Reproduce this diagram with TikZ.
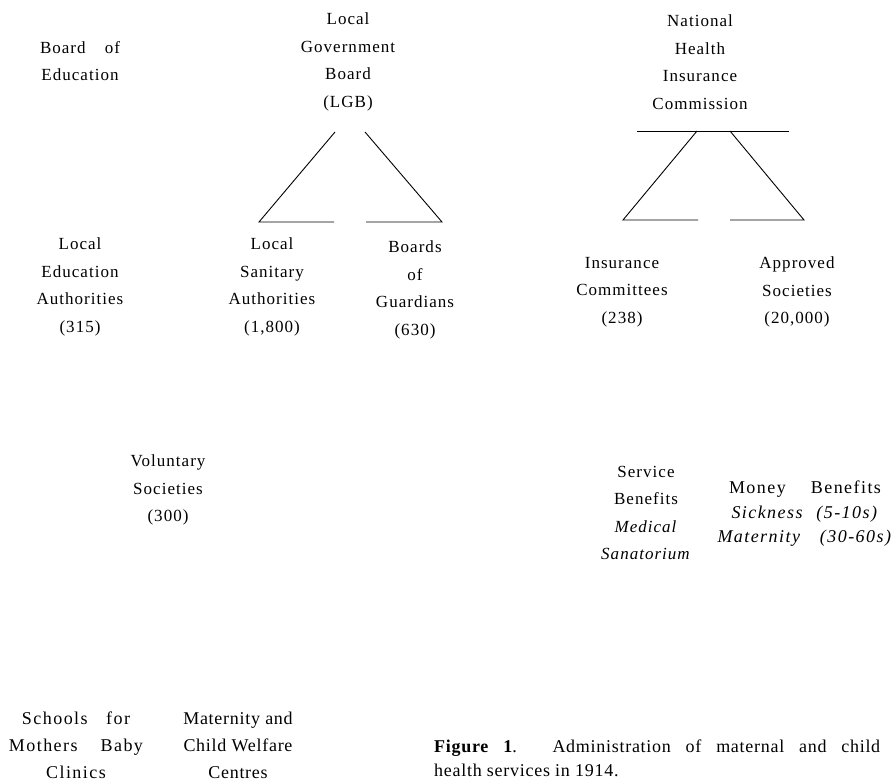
\documentclass[tikz,border=0pt]{standalone}
\usepackage{fontspec}
\setmainfont{Liberation Serif}
\newfontfamily\spaced[LetterSpace=6]{Liberation Serif}
\newfontfamily\widefam[LetterSpace=8]{Liberation Serif}
\newfontfamily\slight[LetterSpace=4]{Liberation Serif}
% a line stretched at its word gaps to a given width
\newcommand{\spread}[2]{\makebox[#1][s]{#2}}
\begin{document}
\begin{tikzpicture}[x=1pt,y=-1pt,
  lbl/.style={align=center,inner sep=0pt,font=\fontsize{17}{27.5}\selectfont\spaced},
  clinic/.style={align=center,inner sep=0pt,font=\fontsize{18}{27}\selectfont\slight},
  rule/.style={line width=0.9pt}]
\useasboundingbox (0,0) rectangle (895,781);

% top-level bodies
\node[lbl] (boe) at (80,61) {\spread{80pt}{Board of}\\Education};
\node[lbl] (lgb) at (348,62) {Local\\Government\\Board\\(LGB)};
\node[lbl] (nhi) at (700,62) {National\\Health\\Insurance\\Commission};

% local bodies
\node[lbl] (lea) at (80,287) {Local\\Education\\Authorities\\(315)};
\node[lbl] (lsa) at (272,287) {Local\\Sanitary\\Authorities\\(1,800)};
\node[lbl] (bog) at (415,290) {Boards\\of\\Guardians\\(630)};
\node[lbl] (ic) at (622,292) {Insurance\\Committees\\(238)};
\node[lbl] (as) at (797,292) {Approved\\Societies\\(20,000)};

% services
\node[lbl] (vs) at (168,490) {Voluntary\\Societies\\(300)};
\node[lbl] (sb) at (646,513) {Service\\Benefits\\\textit{Medical}\\\textit{Sanatorium}};
\node[lbl,font=\fontsize{18}{24.5}\selectfont\widefam] (mb) at (805,514)
  {\spread{152pt}{Money Benefits}\\
   \spread{147pt}{\textit{Sickness (5-10s)}}\\
   \spread{175pt}{\textit{Maternity (30-60s)}}};

% clinics
\node[clinic,font=\fontsize{18}{27}\selectfont\widefam] (sfm) at (76,745)
  {\spread{108pt}{Schools for}\\\spread{134pt}{Mothers Baby}\\Clinics};
\node[clinic] (mcw) at (238,745) {Maternity and\\Child Welfare\\Centres};

% caption
\node[align=left,anchor=north west,inner sep=0pt,
  font=\fontsize{18}{24}\selectfont\slight] (cap) at (434,740)
  {\spread{446pt}{\textbf{Figure 1}. Administration of maternal and child}\\
   health services in 1914.};

% LGB branches
\coordinate (l1) at (335,132); \coordinate (l2) at (259,222); \coordinate (l3) at (334,222);
\coordinate (r1) at (365,132); \coordinate (r2) at (442,222); \coordinate (r3) at (366,222);
\draw[rule] (l1) -- (l2) -- (l3);
\draw[rule] (r1) -- (r2) -- (r3);

% NHI branches
\coordinate (n0) at (637,131); \coordinate (n4) at (789,131);
\coordinate (n1) at (697,131); \coordinate (n2) at (623,220); \coordinate (n3) at (698,220);
\coordinate (m1) at (730,131); \coordinate (m2) at (804,220); \coordinate (m3) at (730,220);
\draw[rule] (n0) -- (n4);
\draw[rule] (n1) -- (n2) -- (n3);
\draw[rule] (m1) -- (m2) -- (m3);
\end{tikzpicture}
\end{document}
